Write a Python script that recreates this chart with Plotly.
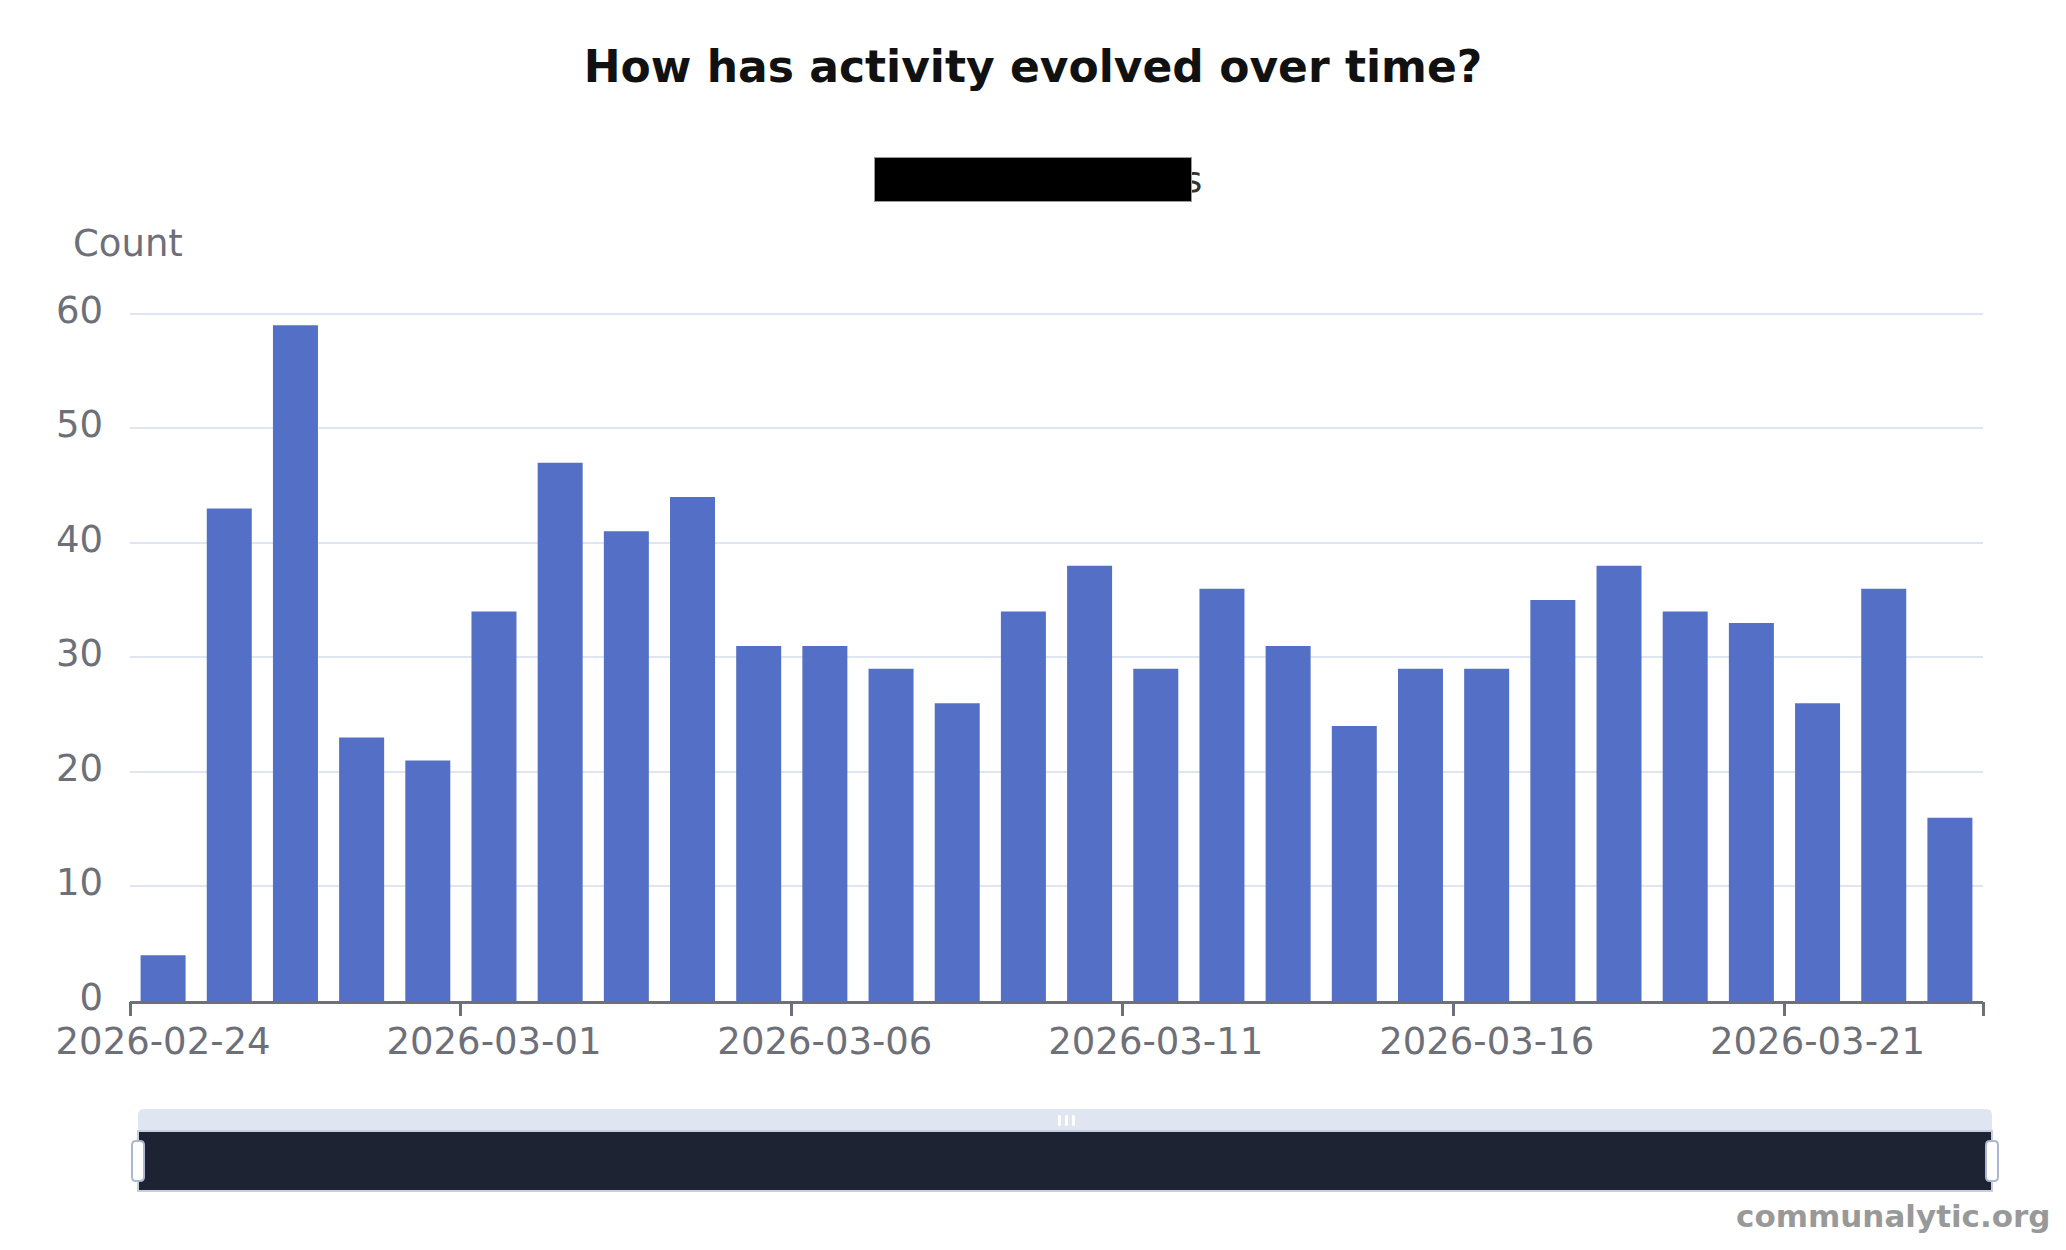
import plotly.graph_objects as go

# ---- data ----
dates = [
    "2026-02-24", "2026-02-25", "2026-02-26", "2026-02-27", "2026-02-28",
    "2026-03-01", "2026-03-02", "2026-03-03", "2026-03-04", "2026-03-05",
    "2026-03-06", "2026-03-07", "2026-03-08", "2026-03-09", "2026-03-10",
    "2026-03-11", "2026-03-12", "2026-03-13", "2026-03-14", "2026-03-15",
    "2026-03-16", "2026-03-17", "2026-03-18", "2026-03-19", "2026-03-20",
    "2026-03-21", "2026-03-22", "2026-03-23",
]
counts = [4, 43, 59, 23, 21, 34, 47, 41, 44, 31, 31, 29, 26, 34, 38,
          29, 36, 31, 24, 29, 29, 35, 38, 34, 33, 26, 36, 16]
tick_labels = dates[::5]
y_ticks = [0, 10, 20, 30, 40, 50, 60]

title_text = "How has activity evolved over time?"
y_name = "Count"
watermark = "communalytic.org"

# ---- layout geometry (pixels) ----
W, H = 2066, 1250
L, R, T, B = 130, 83, 312, 249
PW, PH = W - L - R, H - T - B
FONT = "DejaVu Sans"
GREY = "#6E7079"
Y_TOP = 60.15


def px(xp):
    return (xp - L) / PW


def py(yp):
    return (H - B - yp) / PH


fig = go.Figure()
fig.add_trace(go.Bar(
    x=dates, y=counts, marker=dict(color="#5470C6", line=dict(width=0)),
    showlegend=False, hoverinfo="x+y",
))

n = len(dates)
boundaries = [i - 0.5 for i in range(0, n, 5)] + [n - 0.5]

# invisible helper trace so the boundary-tick axis is rendered
fig.add_trace(go.Scatter(
    x=boundaries, y=[0] * len(boundaries), xaxis="x2", yaxis="y",
    mode="markers", marker=dict(opacity=0, size=1),
    hoverinfo="skip", showlegend=False,
))

shapes = []


def rect(x0, y0, x1, y1, fill, line_color=None, lw=0):
    shapes.append(dict(type="rect", xref="paper", yref="paper",
                       x0=px(x0), x1=px(x1), y0=py(y1), y1=py(y0),
                       fillcolor=fill,
                       line=dict(color=line_color or fill, width=lw),
                       layer="above"))


def rrect(x0, y0, x1, y1, r, fill, line_color=None, lw=0, top_only=False):
    def P(a, b):
        return f"{px(a)},{py(b)}"
    if top_only:
        path = (f"M {P(x0, y1)} L {P(x0, y0 + r)} Q {P(x0, y0)} {P(x0 + r, y0)} "
                f"L {P(x1 - r, y0)} Q {P(x1, y0)} {P(x1, y0 + r)} L {P(x1, y1)} Z")
    else:
        path = (f"M {P(x0, y0 + r)} Q {P(x0, y0)} {P(x0 + r, y0)} "
                f"L {P(x1 - r, y0)} Q {P(x1, y0)} {P(x1, y0 + r)} "
                f"L {P(x1, y1 - r)} Q {P(x1, y1)} {P(x1 - r, y1)} "
                f"L {P(x0 + r, y1)} Q {P(x0, y1)} {P(x0, y1 - r)} Z")
    shapes.append(dict(type="path", xref="paper", yref="paper", path=path,
                       fillcolor=fill,
                       line=dict(color=line_color or fill, width=lw),
                       layer="above"))


# data-zoom slider decoration
SX0, SX1 = 138, 1992
rrect(SX0, 1109, SX1, 1131, 6, "#E0E6F1", top_only=True)
rect(SX0, 1131, SX1, 1191, "#1E2333", "#C8CEDE", 2)
for gx in (1058, 1065, 1072):
    rrect(gx, 1115, gx + 3, 1126, 1.4, "#FFFFFF")
rrect(SX0 - 6, 1141, SX0 + 6, 1181, 4, "#FFFFFF", "#ACB8D1", 2)
rrect(SX1 - 6, 1141, SX1 + 6, 1181, 4, "#FFFFFF", "#ACB8D1", 2)

annotations = [
    dict(text=y_name, xref="paper", yref="paper", x=px(128), y=py(244),
         xanchor="center", yanchor="middle", showarrow=False,
         font=dict(family=FONT, size=37, color=GREY)),
    dict(text="s", xref="paper", yref="paper", x=px(1204), y=py(180),
         xanchor="right", yanchor="middle", showarrow=False,
         font=dict(family=FONT, size=35, color="#333333")),
    dict(text=" ", xref="paper", yref="paper", x=px(1033), y=py(179.5),
         xanchor="center", yanchor="middle", showarrow=False,
         width=316, height=43, borderpad=0, bgcolor="#000000",
         bordercolor="#9A9A9A", borderwidth=1,
         font=dict(family=FONT, size=10, color="#000000")),
    dict(text=f"<b>{watermark}</b>", xref="paper", yref="paper",
         x=px(2053), y=py(1216), xanchor="right", yanchor="middle",
         showarrow=False, font=dict(family=FONT, size=31, color="#999999")),
]

fig.update_layout(
    width=W, height=H, autosize=False,
    margin=dict(l=L, r=R, t=T, b=B, pad=0),
    paper_bgcolor="#FFFFFF", plot_bgcolor="#FFFFFF",
    bargap=0.32,
    font=dict(family=FONT, color=GREY),
    title=dict(text=f"<b>{title_text}</b>", x=0.5, xanchor="center",
               xref="container", y=1 - 67 / H, yref="container",
               yanchor="middle",
               font=dict(family=FONT, size=44, color="#111111")),
    xaxis=dict(type="category", categoryorder="array", categoryarray=dates,
               tickmode="array", tickvals=tick_labels, ticktext=tick_labels,
               ticks="", ticklabelstandoff=6,
               showline=True, linecolor=GREY, linewidth=3,
               showgrid=False, zeroline=False,
               tickfont=dict(family=FONT, size=37, color=GREY),
               range=[-0.5, n - 0.5], fixedrange=True),
    xaxis2=dict(overlaying="x", anchor="y", side="bottom", type="linear",
                range=[-0.5, n - 0.5], tickmode="array", tickvals=boundaries,
                ticks="outside", ticklen=14, tickwidth=3, tickcolor=GREY,
                showticklabels=False, showgrid=False, zeroline=False,
                showline=False, fixedrange=True),
    yaxis=dict(range=[0, Y_TOP], tickmode="array", tickvals=y_ticks,
               showgrid=True, gridcolor="#E0E6F1", gridwidth=2,
               zeroline=False, showline=False, ticks="",
               ticklabelstandoff=26, ticklabelshift=-4,
               tickfont=dict(family=FONT, size=37, color=GREY),
               fixedrange=True),
    shapes=shapes,
    annotations=annotations,
)

fig.write_html(
    "out.html",
    config={"displayModeBar": False},
    post_script="document.body.style.margin='0';document.body.style.overflow='hidden';",
)
